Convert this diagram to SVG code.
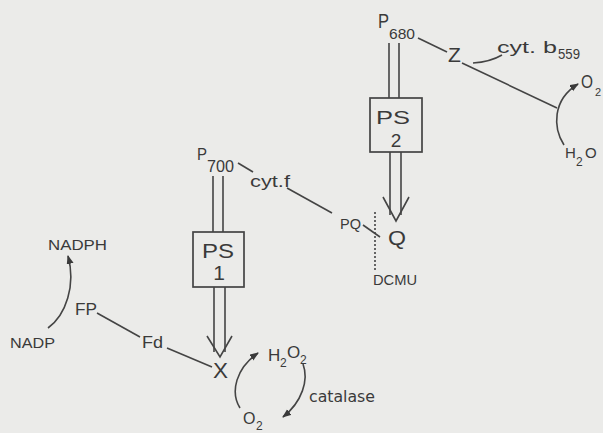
<svg xmlns="http://www.w3.org/2000/svg" width="603" height="433" viewBox="0 0 603 433">
<style>
.t{font-family:"Liberation Sans",Arial,sans-serif;fill:#3a3a3a}
.g{font-family:"DejaVu Sans",sans-serif;fill:#3a3a3a}
.l{stroke:#444;stroke-width:1.6;fill:none}
.b{stroke:#444;stroke-width:1.7;fill:none}
</style>
<defs>
<marker id="ah" markerUnits="userSpaceOnUse" markerWidth="10" markerHeight="8" refX="8" refY="3.5" orient="auto">
<path d="M0,0 L9,3.5 L0,7 z" fill="#3a3a3a"/>
</marker>
</defs>
<rect width="603" height="433" fill="#ebebe9"/>

<g id="connectors">
<line class="l" x1="389" y1="43" x2="389" y2="98"/>
<line class="l" x1="399" y1="43" x2="399" y2="98"/>
<line class="l" x1="390" y1="152" x2="390" y2="215"/>
<line class="l" x1="401" y1="152" x2="401" y2="215"/>
<polyline class="l" points="383,197 396,221 409,197"/>
<line class="l" x1="213" y1="176" x2="213" y2="232"/>
<line class="l" x1="223" y1="176" x2="223" y2="232"/>
<line class="l" x1="214" y1="287" x2="214" y2="352"/>
<line class="l" x1="225" y1="287" x2="225" y2="352"/>
<polyline class="l" points="207,336 220,357 232,336"/>
<line class="l" x1="418" y1="38" x2="447" y2="52"/>
<path class="l" d="M473,63 Q490,62 502,55"/>
<line class="l" x1="462" y1="63" x2="557" y2="108"/>
<path class="l" d="M564,145 C553,128 552,100 578,84" marker-end="url(#ah)"/>
<line class="l" x1="238" y1="163" x2="253" y2="172"/>
<line class="l" x1="287" y1="188" x2="332" y2="213"/>
<line class="l" x1="363" y1="225" x2="380" y2="237"/>
<line class="l" x1="375" y1="212" x2="375" y2="272" stroke-dasharray="2,2"/>
<line class="l" x1="97" y1="313" x2="140" y2="337"/>
<line class="l" x1="167" y1="348" x2="212" y2="367"/>
<path class="l" d="M48,328 C66,315 76,285 68,256" marker-end="url(#ah)"/>
<path class="l" d="M240,408 C230,392 236,368 258,353" marker-end="url(#ah)"/>
<path class="l" d="M303,364 C309,380 302,402 283,417" marker-end="url(#ah)"/>
</g>

<g id="PS2">
<rect class="b" x="370" y="98" width="52" height="54"/>
<text class="t" x="376" y="124" font-size="19" textLength="34" lengthAdjust="spacingAndGlyphs">PS</text>
<text class="t" x="396" y="147" font-size="19" text-anchor="middle">2</text>
</g>
<g id="PS1">
<rect class="b" x="193" y="232" width="51" height="55"/>
<text class="t" x="202" y="258" font-size="21" textLength="32" lengthAdjust="spacingAndGlyphs">PS</text>
<text class="t" x="219" y="280" font-size="21" text-anchor="middle">1</text>
</g>
<g id="P680">
<text class="t" x="378" y="28" font-size="21" textLength="11" lengthAdjust="spacingAndGlyphs">P</text>
<text class="t" x="389" y="39" font-size="15" textLength="26" lengthAdjust="spacingAndGlyphs">680</text>
</g>
<g id="Z"><text class="t" x="448" y="62" font-size="21">Z</text></g>
<g id="cytb559">
<text class="t" x="497" y="53" font-size="16" textLength="60" lengthAdjust="spacingAndGlyphs">cyt. b</text>
<text class="t" x="558" y="59" font-size="14" textLength="22" lengthAdjust="spacingAndGlyphs">559</text>
</g>
<g id="O2top">
<text class="t" x="581" y="88" font-size="18" textLength="12" lengthAdjust="spacingAndGlyphs">O</text>
<text class="t" x="595" y="96" font-size="11">2</text>
</g>
<g id="H2Otop">
<text class="t" x="565" y="158" font-size="15">H</text>
<text class="t" x="576" y="166" font-size="12">2</text>
<text class="t" x="585" y="158" font-size="15">O</text>
</g>
<g id="P700">
<text class="t" x="197" y="160" font-size="17" textLength="10" lengthAdjust="spacingAndGlyphs">P</text>
<text class="t" x="207" y="172" font-size="17" textLength="27" lengthAdjust="spacingAndGlyphs">700</text>
</g>
<g id="cytf"><text class="t" x="250" y="187" font-size="16" textLength="40" lengthAdjust="spacingAndGlyphs">cyt.f</text></g>
<g id="PQ"><text class="t" x="340" y="229" font-size="14" textLength="21" lengthAdjust="spacingAndGlyphs">PQ</text></g>
<g id="Q"><text class="t" x="388" y="245" font-size="20" textLength="18" lengthAdjust="spacingAndGlyphs">Q</text></g>
<g id="DCMU"><text class="t" x="373" y="285" font-size="14" textLength="44" lengthAdjust="spacingAndGlyphs">DCMU</text></g>
<g id="NADPH"><text class="t" x="48" y="250" font-size="14" textLength="59" lengthAdjust="spacingAndGlyphs">NADPH</text></g>
<g id="NADP"><text class="t" x="10" y="348" font-size="15" textLength="45" lengthAdjust="spacingAndGlyphs">NADP</text></g>
<g id="FP"><text class="t" x="75" y="315" font-size="16" textLength="22" lengthAdjust="spacingAndGlyphs">FP</text></g>
<g id="Fd"><text class="t" x="142" y="348" font-size="16" textLength="21" lengthAdjust="spacingAndGlyphs">Fd</text></g>
<g id="X"><text class="t" x="213" y="378" font-size="22" textLength="15" lengthAdjust="spacingAndGlyphs">X</text></g>
<g id="H2O2">
<text class="t" x="268" y="361" font-size="17">H</text>
<text class="t" x="280" y="367" font-size="12">2</text>
<text class="t" x="287" y="358" font-size="17">O</text>
<text class="t" x="300" y="364" font-size="12">2</text>
</g>
<g id="O2bottom">
<text class="t" x="243" y="424" font-size="16">O</text>
<text class="t" x="256" y="430" font-size="12">2</text>
</g>
<g id="catalase"><text class="g" x="309" y="402" font-size="16" textLength="66" lengthAdjust="spacingAndGlyphs">catalase</text></g>
</svg>
